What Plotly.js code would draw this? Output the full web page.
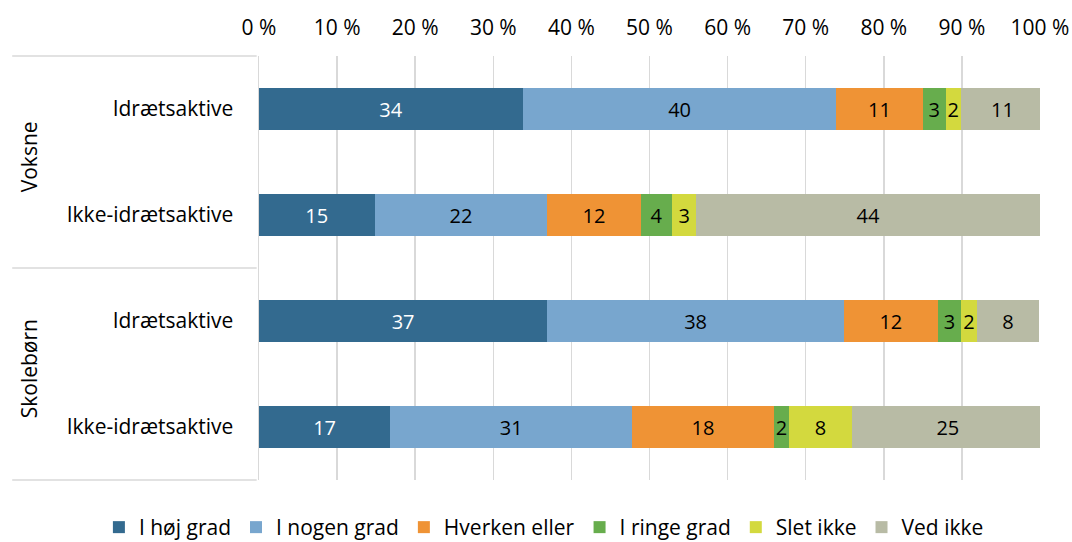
<!DOCTYPE html>
<html>
<head>
<meta charset="utf-8">
<script src="https://cdn.plot.ly/plotly-3.0.1.min.js"></script>
<style>
  html, body { margin: 0; padding: 0; background: #fff; }
  #chart { width: 1072px; height: 542px; }
</style>
</head>
<body>
<div id="chart"></div>
<script>
// ---- Data ----
const groups  = ['Voksne', 'Voksne', 'Skolebørn', 'Skolebørn'];
const subcats = ['Idrætsaktive', 'Ikke-idrætsaktive', 'Idrætsaktive', 'Ikke-idrætsaktive'];
const seriesNames = ['I høj grad', 'I nogen grad', 'Hverken eller', 'I ringe grad', 'Slet ikke', 'Ved ikke'];

const hoejGrad  = [33.8, 14.8, 36.9, 16.8];
const nogenGrad = [40.1, 22.1, 38.0, 31.0];
const hverken   = [11.1, 12.0, 12.0, 18.1];
const ringe     = [2.9, 4.0, 3.0, 2.0];
const slet      = [2.0, 3.1, 2.0, 8.0];
const vedIkke   = [10.6, 44.0, 8.0, 24.6];

const xTicks = [0, 10, 20, 30, 40, 50, 60, 70, 80, 90, 100];

// ---- Styling ----
const colors = ['#336A8F', '#78A6CE', '#EF9335', '#67AD4D', '#D3D93E', '#B8BBA5'];
const textColors = ['#FFFFFF', '#000000', '#000000', '#000000', '#000000', '#000000'];
const FONT = '"Open Sans", "Noto Sans", sans-serif';
const GRID = '#D9D9D9';

const rowKeys = subcats.map((s, i) => groups[i] + '|' + s);
const allSeries = [hoejGrad, nogenGrad, hverken, ringe, slet, vedIkke];

const traces = allSeries.map((vals, k) => ({
  type: 'bar',
  orientation: 'h',
  name: seriesNames[k],
  y: rowKeys,
  x: vals,
  width: 0.4,
  marker: { color: colors[k], line: { width: 0 } },
  texttemplate: '%{x:.0f}',
  textposition: 'inside',
  insidetextanchor: 'middle',
  textangle: 0,
  insidetextfont: { family: FONT, size: 20, color: textColors[k] },
  hoverinfo: 'skip',
  cliponaxis: true
}));

const groupNames = ['Voksne', 'Skolebørn'];

const layout = {
  width: 1072,
  height: 542,
  margin: { l: 259, r: 32, t: 56, b: 62, autoexpand: false },
  paper_bgcolor: '#FFFFFF',
  plot_bgcolor: '#FFFFFF',
  barmode: 'stack',
  font: { family: FONT, size: 21, color: '#000000' },
  uniformtext: { mode: 'show', minsize: 20 },
  showlegend: true,
  legend: {
    orientation: 'h',
    x: -0.205, xanchor: 'left',
    y: -0.112, yanchor: 'middle',
    font: { family: FONT, size: 21, color: '#000000' },
    traceorder: 'normal',
    itemwidth: 30,
    bgcolor: 'rgba(0,0,0,0)'
  },
  xaxis: {
    side: 'top',
    range: [0, 100],
    tickvals: xTicks,
    ticktext: xTicks.map(v => v + ' %'),
    showgrid: true,
    gridcolor: GRID,
    gridwidth: 1.5,
    zeroline: false,
    showline: false,
    ticks: 'outside',
    ticklen: 12,
    tickcolor: 'rgba(0,0,0,0)',
    tickfont: { family: FONT, size: 21, color: '#000000' },
    fixedrange: true
  },
  yaxis: {
    type: 'category',
    range: [3.5, -0.5],
    tickvals: rowKeys,
    ticktext: subcats,
    showgrid: false,
    zeroline: false,
    showline: true,
    linecolor: GRID,
    linewidth: 1.5,
    ticks: 'outside',
    ticklen: 20,
    tickcolor: 'rgba(0,0,0,0)',
    tickfont: { family: FONT, size: 21, color: '#000000' },
    fixedrange: true
  },
  shapes: [1, 0.5, 0].map(yv => ({
    type: 'line', xref: 'paper', yref: 'paper',
    x0: -0.316, x1: -0.003, y0: yv, y1: yv,
    line: { color: GRID, width: 1.5 }
  })),
  annotations: groupNames.map((g, i) => ({
    text: g,
    xref: 'paper', yref: 'paper',
    x: -0.294, y: i === 0 ? 0.762 : 0.262,
    xanchor: 'center', yanchor: 'middle',
    textangle: -90,
    showarrow: false,
    font: { family: FONT, size: 21, color: '#000000' }
  }))
};

Plotly.newPlot('chart', traces, layout, { displayModeBar: false, staticPlot: true });
</script>
</body>
</html>
